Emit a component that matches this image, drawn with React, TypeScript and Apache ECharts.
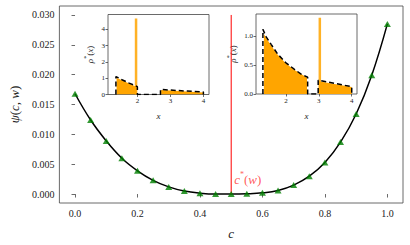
import React, { useEffect, useRef } from "react";
import * as echarts from "echarts";

// ---- main panel data ----
const cValues = [0, 0.05, 0.1, 0.15, 0.2, 0.25, 0.3, 0.35, 0.4, 0.45, 0.5, 0.55, 0.6, 0.65, 0.7, 0.75, 0.8, 0.85, 0.9, 0.95, 1.0];
const psiValues = [0.0168, 0.0124, 0.0089, 0.006, 0.0039, 0.0023, 0.0012, 0.0005, 0.00015, 0.0, 0.0, 0.00005, 0.0002, 0.0006, 0.0015, 0.003, 0.0053, 0.0087, 0.0134, 0.0199, 0.0285];
const cStar = 0.5;
const cStarTop = 0.03;
const cStarLabelY = 0.0025;
const mainXTicks = [0, 0.2, 0.4, 0.6, 0.8, 1.0];
const mainYTicks = [0, 0.005, 0.01, 0.015, 0.02, 0.025, 0.03];

// ---- inset 1 data ----
const in1DensX = [1.35, 1.35, 1.55, 1.75, 2.0, 2.0, 2.7, 2.7, 3.0, 3.5, 4.0, 4.0];
const in1DensY = [0, 1.1, 0.89, 0.7, 0.48, 0, 0, 0.31, 0.27, 0.21, 0.15, 0];
const in1HistX = [1.37, 1.37, 1.55, 1.75, 1.98, 1.98, 2.72, 2.72, 3.0, 3.5, 4.0, 4.0];
const in1HistY = [0, 1.02, 0.86, 0.67, 0.46, 0, 0, 0.27, 0.24, 0.19, 0.13, 0];
const in1SpikeX = 1.96;
const in1SpikeH = 4.65;
const in1XTicks = [2, 3, 4];
const in1YTicks = [0, 1, 2, 3, 4];

// ---- inset 2 data ----
const in2DensX = [1.3, 1.3, 1.4, 1.55, 1.75, 2.0, 2.25, 2.45, 2.66, 2.66, 2.98, 2.98, 4.0, 4.0];
const in2DensY = [0, 1.12, 0.99, 0.86, 0.69, 0.54, 0.43, 0.35, 0.29, 0, 0, 0.24, 0.126, 0];
const in2HistX = [1.33, 1.33, 1.4, 1.55, 1.75, 2.0, 2.25, 2.45, 2.64, 2.64, 3.0, 3.0, 4.0, 4.0];
const in2HistY = [0, 1.04, 0.97, 0.84, 0.68, 0.53, 0.42, 0.35, 0.28, 0, 0, 0.22, 0.12, 0];
const in2SpikeX = 3.03;
const in2SpikeH = 1.32;
const in2XTicks = [2, 3, 4];
const in2YTicks = [0, 0.5, 1.0];

const FONT = "'Liberation Serif', 'DejaVu Serif', serif";
const TXT = "#222";
const SPINE = "#444";
const ORANGE = "#FFA500";

const zip = (xs: number[], ys: number[]) => xs.map((x, i) => [x, ys[i]]);

function mathRich(size: number, color = TXT) {
  return {
    i: { fontFamily: FONT, fontStyle: "italic", fontSize: size, color, lineHeight: size + 4 },
    r: { fontFamily: FONT, fontSize: size, color, lineHeight: size + 4 },
    s: { fontFamily: FONT, fontSize: Math.round(size * 0.65), color, verticalAlign: "top", lineHeight: size + 4 },
  };
}

function valAxis(gridIndex: number, min: number, max: number, ticks: number[], fmt: (v: number) => string, fontSize: number, extra: any = {}) {
  return {
    type: "value",
    gridIndex,
    min,
    max,
    splitLine: { show: false },
    axisLine: { show: false },
    axisTick: { show: true, length: fontSize > 8 ? 3.5 : 2.5, lineStyle: { color: SPINE, width: 0.8 }, customValues: ticks },
    axisLabel: {
      customValues: ticks,
      formatter: (v: number) => fmt(v),
      fontFamily: FONT,
      fontSize,
      color: TXT,
      margin: fontSize > 8 ? 5 : 3,
    },
    ...extra,
  };
}

export default function App() {
  const ref = useRef<HTMLDivElement>(null);
  useEffect(() => {
    if (!ref.current) return;
    const chart = echarts.init(ref.current, undefined, { renderer: "svg" });
    const option: any = {
      animation: false,
      backgroundColor: "#fff",
      textStyle: { fontFamily: FONT },
      grid: [
        { left: 51, top: 6, width: 352, height: 205, show: true, borderColor: SPINE, borderWidth: 0.8, backgroundColor: "transparent" },
        { left: 108, top: 14.5, width: 101, height: 80, show: true, borderColor: SPINE, borderWidth: 0.8, backgroundColor: "#fff" },
        { left: 256, top: 14, width: 101, height: 80, show: true, borderColor: SPINE, borderWidth: 0.8, backgroundColor: "#fff" },
      ],
      xAxis: [
        valAxis(0, -0.05, 1.05, mainXTicks, (v) => v.toFixed(1), 10, {
          name: "{i|c}",
          nameLocation: "middle",
          nameGap: 22,
          nameTextStyle: { rich: mathRich(13) },
        }),
        valAxis(1, 1.11, 4.17, in1XTicks, (v) => String(v), 7, {
          name: "{i|x}",
          nameLocation: "middle",
          nameGap: 15,
          nameTextStyle: { rich: mathRich(9) },
        }),
        valAxis(2, 1.09, 4.16, in2XTicks, (v) => String(v), 7, {
          name: "{i|x}",
          nameLocation: "middle",
          nameGap: 15,
          nameTextStyle: { rich: mathRich(9) },
        }),
      ],
      yAxis: [
        valAxis(0, -0.0015, 0.0315, mainYTicks, (v) => v.toFixed(3), 10, {
          name: "{i|ψ}{r|(}{i|c}{r|, }{i|w}{r|)}",
          nameLocation: "middle",
          nameRotate: 90,
          nameGap: 32,
          nameTextStyle: { rich: mathRich(13) },
        }),
        valAxis(1, 0, 4.9, in1YTicks, (v) => String(v), 7, {
          name: "{i|ρ}{s|*}{r|(}{i|x}{r|)}",
          nameLocation: "middle",
          nameRotate: 90,
          nameGap: 12,
          nameTextStyle: { rich: mathRich(9) },
        }),
        valAxis(2, 0, 1.386, in2YTicks, (v) => v.toFixed(1), 7, {
          name: "{i|ρ}{s|*}{r|(}{i|x}{r|)}",
          nameLocation: "middle",
          nameRotate: 90,
          nameGap: 17,
          nameTextStyle: { rich: mathRich(9) },
        }),
      ],
      series: [
        {
          type: "line",
          xAxisIndex: 0,
          yAxisIndex: 0,
          data: zip(cValues, psiValues),
          smooth: 0.4,
          showSymbol: false,
          lineStyle: { color: "#000", width: 1.5 },
          z: 2,
        },
        {
          type: "scatter",
          xAxisIndex: 0,
          yAxisIndex: 0,
          data: zip(cValues, psiValues),
          symbol: "triangle",
          symbolSize: [7, 6],
          itemStyle: { color: "#008000" },
          z: 3,
        },
        {
          type: "line",
          xAxisIndex: 0,
          yAxisIndex: 0,
          data: [[cStar, 0], [cStar, cStarTop]],
          showSymbol: false,
          lineStyle: { color: "#ff0000", width: 1 },
          z: 2,
        },
        {
          type: "scatter",
          xAxisIndex: 0,
          yAxisIndex: 0,
          data: [[cStar, cStarLabelY]],
          symbolSize: 0,
          label: {
            show: true,
            position: "right",
            distance: 3,
            formatter: "{i|c}{s|*}{r|(}{i|w}{r|)}",
            rich: mathRich(13, "#ff3030"),
          },
          z: 4,
        },
        // inset 1
        {
          type: "line",
          xAxisIndex: 1,
          yAxisIndex: 1,
          data: zip(in1HistX, in1HistY),
          showSymbol: false,
          lineStyle: { width: 0 },
          areaStyle: { color: ORANGE, opacity: 1 },
          z: 5,
        },
        {
          type: "line",
          xAxisIndex: 1,
          yAxisIndex: 1,
          data: [[in1SpikeX, 0], [in1SpikeX, in1SpikeH]],
          showSymbol: false,
          lineStyle: { color: ORANGE, width: 2.5, opacity: 0.85 },
          z: 6,
        },
        {
          type: "line",
          xAxisIndex: 1,
          yAxisIndex: 1,
          data: zip(in1DensX, in1DensY),
          showSymbol: false,
          lineStyle: { color: "#000", width: 1.5, type: [5, 3] },
          z: 7,
        },
        // inset 2
        {
          type: "line",
          xAxisIndex: 2,
          yAxisIndex: 2,
          data: zip(in2HistX, in2HistY),
          showSymbol: false,
          lineStyle: { width: 0 },
          areaStyle: { color: ORANGE, opacity: 1 },
          z: 5,
        },
        {
          type: "line",
          xAxisIndex: 2,
          yAxisIndex: 2,
          data: [[in2SpikeX, 0], [in2SpikeX, in2SpikeH]],
          showSymbol: false,
          lineStyle: { color: ORANGE, width: 2.5, opacity: 0.85 },
          z: 6,
        },
        {
          type: "line",
          xAxisIndex: 2,
          yAxisIndex: 2,
          data: zip(in2DensX, in2DensY),
          showSymbol: false,
          lineStyle: { color: "#000", width: 1.5, type: [5, 3] },
          z: 7,
        },
      ],
    };
    chart.setOption(option);
    return () => chart.dispose();
  }, []);
  return <div ref={ref} style={{ position: "absolute", left: 0, top: 0, width: 410, height: 245 }} />;
}
